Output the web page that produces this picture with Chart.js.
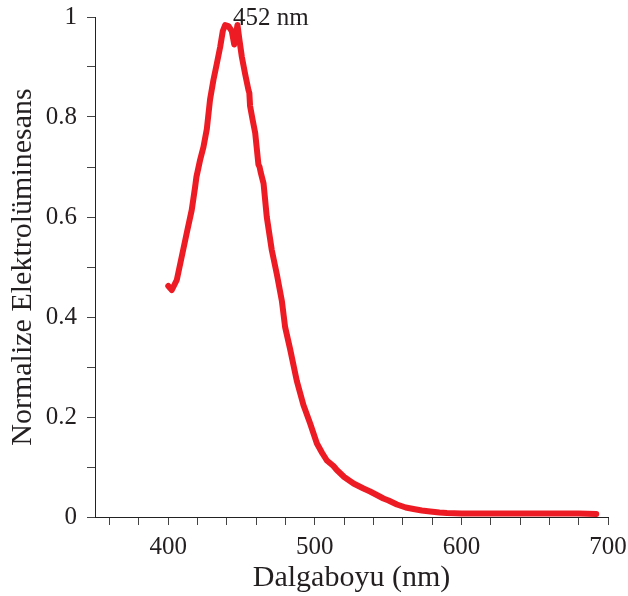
<!DOCTYPE html>
<html>
<head>
<meta charset="utf-8">
<script src="https://cdn.jsdelivr.net/npm/chart.js@4/dist/chart.umd.min.js"></script>
<style>
  html, body { margin: 0; padding: 0; background: #ffffff; }
  #wrap { width: 628px; height: 596px; }
</style>
</head>
<body>
<div id="wrap"><canvas id="c" width="628" height="596"></canvas></div>
<script>
// ---- Data ----
const wavelength = [400.0, 402.4, 405.8, 409.2, 412.6, 416.0, 418.3, 419.2, 421.7, 424.0,
  426.3, 428.5, 430.8, 433.0, 435.4, 437.2, 438.8, 441.0, 443.3, 445.0,
  446.2, 447.2, 448.5, 450.2, 452.5, 454.7, 455.3, 455.8, 457.5, 459.3,
  461.5, 462.3, 463.0, 465.0, 467.2, 470.6, 474.1, 477.5, 479.7, 483.1,
  487.7, 492.2, 496.8, 501.4, 505.0, 508.2, 512.7, 515.0, 520.0, 526.4,
  533.2, 537.7, 542.3, 546.8, 550.3, 556.0, 562.0, 567.3, 573.0, 578.7,
  585.0, 590.1, 600.0, 620.0, 640.0, 660.0, 680.0, 692.0];
const intensity = [0.462, 0.454, 0.474, 0.521, 0.568, 0.614, 0.660, 0.680, 0.714, 0.740,
  0.776, 0.835, 0.874, 0.905, 0.940, 0.972, 0.984, 0.982, 0.972, 0.945,
  0.965, 0.984, 0.955, 0.920, 0.885, 0.854, 0.848, 0.822, 0.795, 0.768,
  0.705, 0.700, 0.690, 0.667, 0.600, 0.534, 0.485, 0.432, 0.380, 0.336,
  0.272, 0.224, 0.187, 0.147, 0.128, 0.113, 0.102, 0.094, 0.080, 0.067,
  0.057, 0.051, 0.044, 0.037, 0.033, 0.025, 0.019, 0.016, 0.013, 0.011,
  0.009, 0.008, 0.007, 0.007, 0.007, 0.007, 0.007, 0.006];
const xTickValues = [360, 380, 400, 420, 440, 460, 480, 500, 520, 540, 560, 580, 600, 620, 640, 660, 680, 700];
const xTickLabels = ['400', '500', '600', '700'];
const yTickValues = [0, 0.1, 0.2, 0.3, 0.4, 0.5, 0.6, 0.7, 0.8, 0.9, 1];
const yTickLabels = ['0', '0.2', '0.4', '0.6', '0.8', '1'];
const peakLabel = { text: '452 nm', x: 444.2, y: 0.985 };
const xTitle = 'Dalgaboyu (nm)';
const yTitle = 'Normalize Elektrolüminesans';

const points = wavelength.map((w, i) => ({ x: w, y: intensity[i] }));
const FONT = "'Liberation Serif', 'Times New Roman', serif";
const INK = '#231f20';

const peakLabelPlugin = {
  id: 'peakLabel',
  afterDatasetsDraw(chart) {
    const ctx = chart.ctx;
    const px = chart.scales.x.getPixelForValue(peakLabel.x);
    const py = chart.scales.y.getPixelForValue(peakLabel.y);
    ctx.save();
    ctx.font = "25px " + FONT;
    ctx.fillStyle = INK;
    ctx.textAlign = 'left';
    ctx.textBaseline = 'alphabetic';
    ctx.fillText(peakLabel.text, px, py);
    ctx.restore();
  }
};

new Chart(document.getElementById('c'), {
  type: 'line',
  data: {
    datasets: [{
      data: points,
      borderColor: '#ed1c24',
      backgroundColor: '#ed1c24',
      borderWidth: 6,
      pointRadius: 0,
      tension: 0,
      borderCapStyle: 'round',
      borderJoinStyle: 'round',
      fill: false
    }]
  },
  options: {
    responsive: false,
    animation: false,
    layout: { padding: { top: 17, right: 20, left: 0, bottom: 0 } },
    plugins: { legend: { display: false }, tooltip: { enabled: false } },
    scales: {
      x: {
        type: 'linear',
        min: 350, max: 700,
        afterBuildTicks(scale) { scale.ticks = xTickValues.map(v => ({ value: v })); },
        afterFit(scale) { scale.height = 79; scale.paddingLeft = 0; scale.paddingRight = 0; },
        ticks: {
          autoSkip: false,
          maxRotation: 0,
          padding: 7,
          color: INK,
          font: { family: FONT, size: 25 },
          callback(v) { const s = String(v); return xTickLabels.includes(s) ? s : ''; }
        },
        grid: { drawOnChartArea: false, drawTicks: true, tickLength: 8, tickColor: '#444', tickWidth: 1 },
        border: { display: true, color: '#222', width: 1 },
        title: { display: true, text: xTitle, color: INK, font: { family: FONT, size: 30 }, padding: { top: 0, bottom: 0 } }
      },
      y: {
        type: 'linear',
        min: 0, max: 1,
        afterBuildTicks(scale) { scale.ticks = yTickValues.map(v => ({ value: v })); },
        afterFit(scale) { scale.width = 95; scale.paddingTop = 0; scale.paddingBottom = 0; },
        ticks: {
          autoSkip: false,
          padding: 10,
          color: INK,
          font: { family: FONT, size: 25 },
          callback(v) { const s = String(Math.round(v * 10) / 10); return yTickLabels.includes(s) ? s : ''; }
        },
        grid: { drawOnChartArea: false, drawTicks: true, tickLength: 8, tickColor: '#444', tickWidth: 1 },
        border: { display: true, color: '#222', width: 1 },
        title: { display: true, text: yTitle, color: INK, font: { family: FONT, size: 30 }, padding: { top: 5, bottom: 0 } }
      }
    }
  },
  plugins: [peakLabelPlugin]
});
</script>
</body>
</html>
